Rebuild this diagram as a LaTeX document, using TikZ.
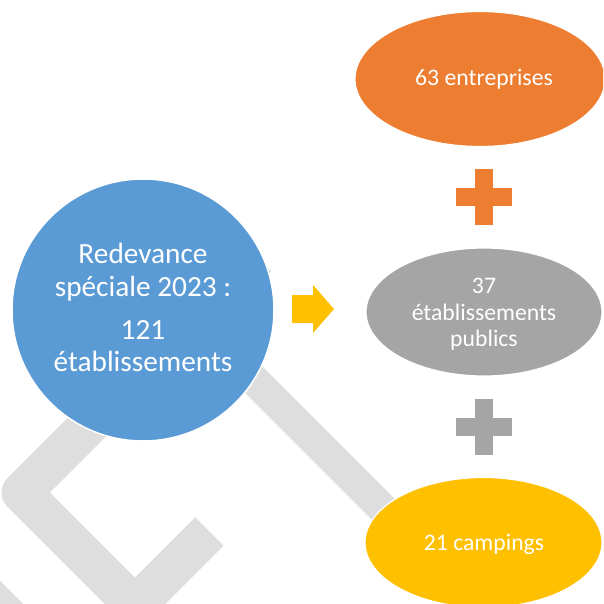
\documentclass[tikz,border=0pt]{standalone}
\usepackage{fontspec}
\setmainfont{Carlito}
\usetikzlibrary{shapes.geometric}
\definecolor{cblue}{HTML}{5B9BD5}
\definecolor{corange}{HTML}{ED7D31}
\definecolor{cgray}{HTML}{A5A5A5}
\definecolor{cyellow}{HTML}{FFC000}
\definecolor{wm}{HTML}{DEDEDE}
\begin{document}
\begin{tikzpicture}[x=1pt,y=-1pt,
  wmband/.style={draw=wm, line width=40pt, line join=round},
  bubble/.style={ellipse, draw=white, line width=1.2pt, inner sep=0pt},
  txtbig/.style={text=white, font=\fontsize{29.3}{32}\selectfont, anchor=base, inner sep=0pt},
  txtsm/.style={text=white, font=\fontsize{23.7}{26.5}\selectfont, anchor=base, inner sep=0pt}]
\useasboundingbox (0,0) rectangle (603,604);
\clip (0,0) rectangle (603,604);
% watermark
\draw[wmband] (209.5,531.5) -- (135,606) -- (21.5,492.5) -- (257,257);
\draw[draw=wm, line width=31pt] (194,320) -- (430,556);
\draw[wmband] (-30,579) -- (30,639);
% main circle
\node[circle, fill=cblue, draw=white, line width=1.5pt, minimum size=262pt, inner sep=0pt] (src) at (143,310) {};
\node[txtbig] (src1) at (143,263.5) {Redevance};
\node[txtbig] (src2) at (143,296) {spéciale 2023 :};
\node[txtbig] (src3) at (143,339.6) {121};
\node[txtbig] (src4) at (143,371) {établissements};
% arrow
\fill[cyellow] (292,295) -- (313,295) -- (313,285) -- (334,309) -- (313,333) -- (313,323) -- (292,323) -- cycle;
% ellipses
\node[bubble, fill=corange, minimum width=250pt, minimum height=135pt] (ent) at (480,79) {};
\node[txtsm] (entt) at (484,86) {63 entreprises};
\node[bubble, fill=cgray, minimum width=236pt, minimum height=128pt] (pub) at (484,312) {};
\node[txtsm] (pub1) at (484,293.5) {37};
\node[txtsm] (pub2) at (484,320) {établissements};
\node[txtsm] (pub3) at (484,346.5) {publics};
\node[bubble, fill=cyellow, minimum width=237pt, minimum height=130pt] (camp) at (483.5,542.5) {};
\node[txtsm] (campt) at (484,550) {21 campings};
% plus signs
\fill[corange] (475,169.3) rectangle (493.3,225.3);
\fill[corange] (456,188.3) rectangle (512.3,206);
\fill[cgray] (475,399) rectangle (493.3,455);
\fill[cgray] (456,418) rectangle (512.3,435.7);
\end{tikzpicture}
\end{document}
